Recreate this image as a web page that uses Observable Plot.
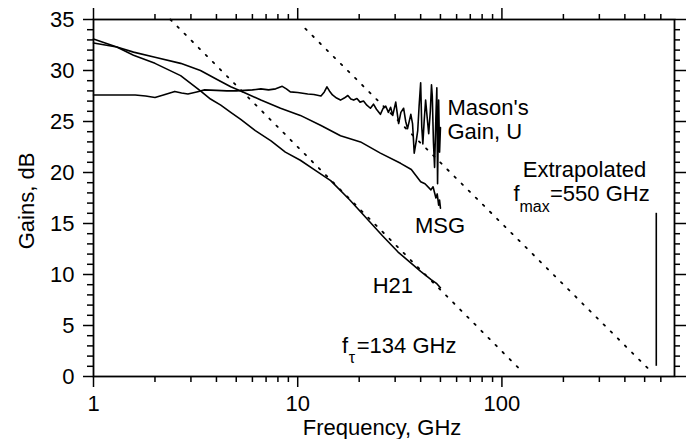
<!DOCTYPE html>
<html>
<head>
<meta charset="utf-8">
<script src="https://cdn.jsdelivr.net/npm/d3@7"></script>
<script src="https://cdn.jsdelivr.net/npm/@observablehq/plot@0.6"></script>
<style>
  html, body { margin: 0; padding: 0; background: #fff; }
</style>
</head>
<body>
<div id="chart"></div>
<script>
// ---- Data ----
const h21Freq = [1, 1.3, 1.57, 2.0, 2.67, 3.34, 3.74, 4.2, 4.7, 5.26, 6.2, 7.4, 8.7, 10.3, 12.2, 14.5, 18, 22, 26, 31, 36, 40, 45, 48, 50];
const h21Gain = [33.1, 32.3, 31.5, 30.7, 29.5, 28.0, 27.2, 26.6, 25.9, 25.2, 24.1, 23.1, 22.0, 21.2, 20.2, 19.2, 17.3, 15.4, 13.8, 12.2, 11.1, 10.3, 9.5, 9.1, 8.7];

const msgFreq = [1, 1.3, 1.57, 2.0, 2.67, 3.34, 4.05, 4.7, 5.26, 6.6, 8.24, 10.3, 13, 16.2, 20.3, 25.4, 31.9, 36, 40, 42, 44.9, 46, 47.5, 48.2, 49, 49.5, 50];
const msgGain = [32.7, 32.3, 31.8, 31.3, 30.7, 30.0, 29.1, 28.4, 28.0, 27.1, 26.3, 25.6, 24.6, 23.6, 23.0, 21.9, 20.9, 20.3, 19.1, 18.9, 18.3, 18.6, 17.5, 17.9, 16.8, 17.3, 16.5];

const masonFreq = [1.0, 1.3, 1.6, 1.8, 2.0, 2.2, 2.5, 2.7, 2.9, 3.2, 3.5, 4.0, 4.5, 5.0, 5.5, 6.0, 6.6, 7.2, 7.8, 8.4, 8.8, 9.2, 10, 11.2, 12, 13, 13.5, 13.9, 14.3, 14.8, 15.5, 16.2, 16.9, 17.6, 18.2, 18.8, 19.5, 20.2, 21, 21.8, 22.7, 23.5, 24.3, 25.4, 26.2, 27, 27.8, 28.5, 29.2, 30.2, 31.2, 32.0, 33, 33.8, 34.5, 35.8, 36.5, 37.2, 38, 38.7, 39.3, 40, 40.5, 41, 41.6, 42.3, 43, 43.8, 44.6, 45.2, 45.6, 46.2, 46.8, 47.5, 48, 48.4, 49, 49.5, 50];
const masonGain = [27.6, 27.6, 27.6, 27.5, 27.35, 27.6, 27.95, 27.8, 27.7, 27.9, 28.1, 28.05, 28.0, 28.0, 28.05, 28.1, 28.2, 28.1, 28.2, 28.45, 28.2, 27.9, 27.85, 27.7, 27.65, 27.5, 27.9, 28.4, 28.0, 27.6, 27.3, 27.1, 27.3, 27.55, 27.2, 27.1, 27.25, 26.9, 27.0, 26.6, 26.3, 26.7, 26.2, 25.7, 26.3, 26.5, 25.9, 26.4, 25.6, 26.9, 24.8, 25.9, 26.3, 25.0, 24.3, 25.7, 24.8, 21.9, 23.0, 24.1, 26.5, 28.8, 24.5, 22.8, 25.0, 27.1, 25.5, 23.8, 26.0, 28.6, 27.5, 23.0, 20.5, 25.5, 28.3, 18.9, 27.1, 22.0, 24.4];

// Dotted -20 dB/decade extrapolations (end points)
const ftLineFreq = [2.38, 126.8];
const ftLineGain = [35, 0.4];
const fmaxLineFreq = [10.9, 531];
const fmaxLineGain = [34.1, 0.6];

// Vertical marker at extrapolated fmax
const markerFreq = [570];
const markerGain = [1.0, 16.0];

// Axis ticks
const xMajor = [1, 10, 100];
const xMinor = [2, 3, 4, 5, 6, 7, 8, 9, 20, 30, 40, 50, 60, 70, 80, 90, 200, 300, 400, 500, 600];
const yMajor = [0, 5, 10, 15, 20, 25, 30, 35];
const yMinor = d3.range(0, 36).filter(v => v % 5 !== 0);

// ---- Tables built from the arrays ----
const toRows = (name, F, G) => F.map((f, i) => ({name, f, g: G[i]}));
const curves = [
  ...toRows("H21", h21Freq, h21Gain),
  ...toRows("MSG", msgFreq, msgGain),
  ...toRows("U", masonFreq, masonGain)
];
const extrap = [
  ...toRows("ft", ftLineFreq, ftLineGain),
  ...toRows("fmax", fmaxLineFreq, fmaxLineGain)
];

const FONT = "'Liberation Sans', Arial, Helvetica, sans-serif";
const txt = {fill: "black", fontSize: 22, textAnchor: "start", lineAnchor: "bottom"};
const sub = {fill: "black", fontSize: 16, textAnchor: "start", lineAnchor: "bottom"};
const none = () => "";

const chart = Plot.plot({
  width: 694,
  height: 439,
  marginLeft: 93,
  marginRight: 20,
  marginTop: 19,
  marginBottom: 63,
  style: {fontFamily: FONT, fontSize: "22px", color: "black", background: "white", overflow: "visible"},
  x: {type: "log", domain: [1, 700]},
  y: {domain: [0, 35]},
  marks: [
    Plot.axisX({anchor: "bottom", ticks: xMajor, tickSize: 11, tickPadding: 8, strokeWidth: 1.5, tickFormat: d => String(d), label: null, fontSize: 22}),
    Plot.axisX({anchor: "bottom", ticks: xMinor, tickSize: 6, strokeWidth: 1.5, tickFormat: none, label: null}),
    Plot.axisX({anchor: "top", ticks: xMajor, tickSize: 12, strokeWidth: 1.5, tickFormat: none, label: null}),
    Plot.axisX({anchor: "top", ticks: xMinor, tickSize: 6, strokeWidth: 1.5, tickFormat: none, label: null}),
    Plot.axisY({anchor: "left", ticks: yMajor, tickSize: 10, tickPadding: 9, strokeWidth: 1.5, label: null, fontSize: 22}),
    Plot.axisY({anchor: "left", ticks: yMinor, tickSize: 6, strokeWidth: 1.5, tickFormat: none, label: null}),
    Plot.axisY({anchor: "right", ticks: yMajor, tickSize: 11, strokeWidth: 1.5, tickFormat: none, label: null}),
    Plot.axisY({anchor: "right", ticks: yMinor, tickSize: 5, strokeWidth: 1.5, tickFormat: none, label: null}),
    Plot.frame({stroke: "black", strokeWidth: 1.8}),

    Plot.line(extrap, {x: "f", y: "g", z: "name", stroke: "black", strokeWidth: 1.8, strokeDasharray: "1.8 8.2"}),
    Plot.line(curves, {x: "f", y: "g", z: "name", stroke: "black", strokeWidth: 1.6, strokeLinejoin: "round"}),
    Plot.ruleX(markerFreq, {y1: markerGain[0], y2: markerGain[1], stroke: "black", strokeWidth: 1.6}),

    // Annotations
    Plot.text(["Mason's"], {...txt, x: 54.1, y: 25.6}),
    Plot.text(["Gain, U"], {...txt, x: 54.1, y: 23.25}),
    Plot.text(["Extrapolated"], {...txt, textAnchor: "middle", x: 253.7, y: 19.6}),
    Plot.text(["f"], {...txt, x: 113.8, y: 17.25}),
    Plot.text(["max"], {...sub, x: 121.8, y: 16.1}),
    Plot.text(["=550 GHz"], {...txt, x: 171.9, y: 17.25}),
    Plot.text(["MSG"], {...txt, x: 37.5, y: 14.1}),
    Plot.text(["H21"], {...txt, x: 23.3, y: 8.15}),
    Plot.text(["f"], {...txt, x: 16.5, y: 2.35}),
    Plot.text(["τ"], {...sub, x: 17.8, y: 1.35}),
    Plot.text(["=134 GHz"], {...txt, x: 19.46, y: 2.35}),

    // Axis titles
    Plot.text(["Frequency, GHz"], {frameAnchor: "bottom", dx: -2, dy: 58, fill: "black", fontSize: 22, textAnchor: "middle", lineAnchor: "bottom"}),
    Plot.text(["Gains, dB"], {frameAnchor: "left", rotate: -90, dx: -60, dy: 3, fill: "black", fontSize: 22, textAnchor: "middle", lineAnchor: "bottom"})
  ]
});

document.getElementById("chart").appendChild(chart);
</script>
</body>
</html>
